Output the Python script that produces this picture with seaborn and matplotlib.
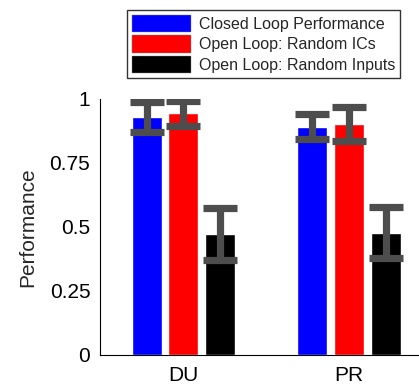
import matplotlib
matplotlib.use("Agg")
import matplotlib.pyplot as plt
import seaborn as sns
import pandas as pd

categories = ["DU", "PR"]
series = ["Closed Loop Performance", "Open Loop: Random ICs", "Open Loop: Random Inputs"]
closed_loop = [0.931, 0.892]
random_ics = [0.944, 0.902]
random_inputs = [0.473, 0.478]
err_closed = [0.059, 0.050]
err_ics = [0.048, 0.066]
err_inputs = [0.100, 0.101]
yticks = [0, 0.25, 0.5, 0.75, 1]
ytick_labels = ["0", "0.25", "0.5", "0.75", "1"]
colors = ["#0000ff", "#ff0000", "#000000"]

rows = []
for s, vals, errs in zip(series, [closed_loop, random_ics, random_inputs],
                         [err_closed, err_ics, err_inputs]):
    for c, v, e in zip(categories, vals, errs):
        rows.append({"cat": c, "series": s, "value": v, "err": e})
df = pd.DataFrame(rows)

sns.set_style("white")
plt.rcParams['font.family'] = ['Liberation Sans', 'DejaVu Sans']

fig = plt.figure(figsize=(4.19, 3.89), dpi=100)
ax = fig.add_axes([100/419, 34/389, 1 - 100/419, 256/389])

sns.barplot(data=df, x="cat", y="value", hue="series", order=categories,
            hue_order=series, palette=colors, width=0.664, gap=0.18,
            errorbar=None, saturation=1, ax=ax, legend=True)

# error bars at bar centers
for container, s in zip(ax.containers, series):
    sub = df[df["series"] == s].set_index("cat").loc[categories]
    xs = [p.get_x() + p.get_width() / 2 for p in container.patches]
    ax.errorbar(xs, sub["value"].values, yerr=sub["err"].values, fmt="none",
                ecolor="#4d4d4d", elinewidth=5.2, capsize=12, capthick=5.2,
                zorder=5)

ax.set_xlim(-0.503, 1.422)
ax.set_ylim(0, 1)
ax.set_yticks(yticks)
ax.set_yticklabels(ytick_labels)
ax.set_xlabel("")
ax.set_ylabel("Performance", fontsize=15, labelpad=9)
ax.tick_params(axis="both", labelsize=15, direction="in", length=3, width=0.8,
               colors="black")
ax.tick_params(axis="x", length=0, pad=8)
ax.tick_params(axis="y", pad=7)
for side in ["top", "right"]:
    ax.spines[side].set_visible(False)
for side in ["left", "bottom"]:
    ax.spines[side].set_color("black")
    ax.spines[side].set_linewidth(0.8)

ax.get_legend().remove()
handles = [plt.Rectangle((0, 0), 1, 1, facecolor=c, edgecolor="#888888", linewidth=0.3) for c in colors]
leg = fig.legend(handles, series, loc="upper left",
                 bbox_to_anchor=(127/419, 1 - 10/389), fontsize=11.5,
                 frameon=True, fancybox=False, edgecolor="black",
                 handlelength=3.7, handleheight=1.3, handletextpad=0.5,
                 labelspacing=0.2, borderpad=0.3, borderaxespad=0)
leg.get_frame().set_linewidth(1.0)

fig.savefig("out.png", dpi=100)
